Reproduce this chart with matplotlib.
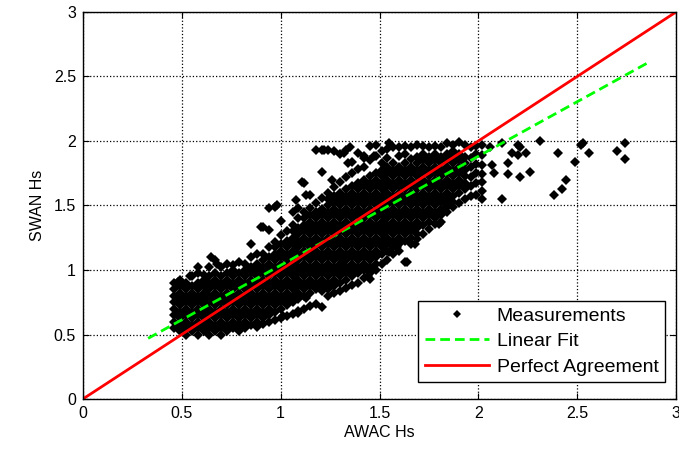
"""
SWAN vs AWAC significant wave height scatter, with linear fit and 1:1 line.
"""
import numpy as np
import matplotlib
matplotlib.use("Agg")
import matplotlib.pyplot as plt

plt.rcParams['font.family'] = ['Liberation Sans', 'DejaVu Sans']

# scatter cloud, stored column by column (AWAC Hs -> list of SWAN Hs)
col_x = [0.46, 0.49, 0.52, 0.55, 0.58, 0.61, 0.64, 0.67, 0.70, 0.73,
         0.76, 0.79, 0.82, 0.85, 0.88, 0.91, 0.94, 0.97, 1.00, 1.03,
         1.06, 1.09, 1.12, 1.15, 1.18, 1.21, 1.24, 1.27, 1.30, 1.33,
         1.36, 1.39, 1.42, 1.45, 1.48, 1.51, 1.54, 1.57, 1.60, 1.63,
         1.66, 1.69, 1.72, 1.75, 1.78, 1.81, 1.84, 1.87, 1.90, 1.93,
         1.96, 1.99, 2.02]
col_y = [
    [0.55, 0.60, 0.65, 0.70, 0.75, 0.80, 0.85, 0.90],
    [0.525, 0.575, 0.625, 0.675, 0.725, 0.775, 0.825, 0.875, 0.925],
    [0.50, 0.55, 0.60, 0.65, 0.70, 0.75, 0.80, 0.85, 0.90],
    [0.525, 0.575, 0.625, 0.675, 0.725, 0.775, 0.825, 0.875, 0.95],
    [0.50, 0.55, 0.60, 0.65, 0.70, 0.75, 0.80, 0.85, 0.90, 0.98],
    [0.525, 0.575, 0.625, 0.675, 0.725, 0.775, 0.825, 0.875, 0.925, 0.96],
    [0.50, 0.55, 0.60, 0.65, 0.70, 0.75, 0.80, 0.85, 0.90, 0.95, 1.02],
    [0.525, 0.575, 0.625, 0.675, 0.725, 0.775, 0.825, 0.875, 0.925, 0.975, 1.08],
    [0.50, 0.55, 0.60, 0.65, 0.70, 0.75, 0.80, 0.85, 0.90, 0.95, 1.02],
    [0.525, 0.575, 0.625, 0.675, 0.725, 0.775, 0.825, 0.875, 0.925, 0.975, 1.05],
    [0.55, 0.60, 0.65, 0.70, 0.75, 0.80, 0.85, 0.90, 0.95, 1.00, 1.04],
    [0.525, 0.575, 0.625, 0.675, 0.725, 0.775, 0.825, 0.875, 0.925, 0.975, 1.06],
    [0.55, 0.60, 0.65, 0.70, 0.75, 0.80, 0.85, 0.90, 0.95, 1.00, 1.05],
    [0.575, 0.625, 0.675, 0.725, 0.775, 0.825, 0.875, 0.925, 0.975, 1.025, 1.10, 1.20],
    [0.56, 0.60, 0.65, 0.70, 0.75, 0.80, 0.85, 0.90, 0.95, 1.00, 1.05, 1.12],
    [0.58, 0.625, 0.675, 0.725, 0.775, 0.825, 0.875, 0.925, 0.975, 1.025, 1.075, 1.12, 1.33],
    [0.60, 0.65, 0.70, 0.75, 0.80, 0.85, 0.90, 0.95, 1.00, 1.05, 1.10, 1.18, 1.48],
    [0.61, 0.675, 0.725, 0.775, 0.825, 0.875, 0.925, 0.975, 1.025, 1.075, 1.125, 1.175, 1.22, 1.49],
    [0.63, 0.70, 0.75, 0.80, 0.85, 0.90, 0.95, 1.00, 1.05, 1.10, 1.15, 1.20, 1.27, 1.38],
    [0.64, 0.725, 0.775, 0.825, 0.875, 0.925, 0.975, 1.025, 1.075, 1.125, 1.175, 1.225, 1.30],
    [0.66, 0.75, 0.80, 0.85, 0.90, 0.95, 1.00, 1.05, 1.10, 1.15, 1.20, 1.25, 1.30, 1.35, 1.45],
    [0.68, 0.775, 0.825, 0.875, 0.925, 0.975, 1.025, 1.075, 1.125, 1.175, 1.225, 1.275, 1.325, 1.40, 1.48],
    [0.70, 0.80, 0.85, 0.90, 0.95, 1.00, 1.05, 1.10, 1.15, 1.20, 1.25, 1.30, 1.35, 1.40, 1.45, 1.67],
    [0.72, 0.825, 0.875, 0.925, 0.975, 1.025, 1.075, 1.125, 1.175, 1.225, 1.275, 1.325, 1.375, 1.425, 1.48, 1.58],
    [0.74, 0.85, 0.90, 0.95, 1.00, 1.05, 1.10, 1.15, 1.20, 1.25, 1.30, 1.35, 1.40, 1.45, 1.52, 1.93],
    [0.71, 0.84, 0.875, 0.925, 0.975, 1.025, 1.075, 1.125, 1.175, 1.225, 1.275, 1.325, 1.375, 1.425, 1.475, 1.56, 1.76, 1.93],
    [0.80, 0.85, 0.90, 0.95, 1.00, 1.05, 1.10, 1.15, 1.20, 1.25, 1.30, 1.35, 1.40, 1.45, 1.50, 1.55, 1.60, 1.93],
    [0.82, 0.875, 0.925, 0.975, 1.025, 1.075, 1.125, 1.175, 1.225, 1.275, 1.325, 1.375, 1.425, 1.475, 1.525, 1.575, 1.64, 1.92],
    [0.84, 0.90, 0.95, 1.00, 1.05, 1.10, 1.15, 1.20, 1.25, 1.30, 1.35, 1.40, 1.45, 1.50, 1.55, 1.60, 1.68, 1.90],
    [0.86, 0.925, 0.975, 1.025, 1.075, 1.125, 1.175, 1.225, 1.275, 1.325, 1.375, 1.425, 1.475, 1.525, 1.575, 1.625, 1.72, 1.93],
    [0.88, 0.95, 1.00, 1.05, 1.10, 1.15, 1.20, 1.25, 1.30, 1.35, 1.40, 1.45, 1.50, 1.55, 1.60, 1.65, 1.75, 1.84],
    [0.90, 0.975, 1.025, 1.075, 1.125, 1.175, 1.225, 1.275, 1.325, 1.375, 1.425, 1.475, 1.525, 1.575, 1.625, 1.675, 1.78],
    [0.94, 1.00, 1.05, 1.10, 1.15, 1.20, 1.25, 1.30, 1.35, 1.40, 1.45, 1.50, 1.55, 1.60, 1.65, 1.70, 1.80, 1.88],
    [0.93, 0.98, 1.025, 1.075, 1.125, 1.175, 1.225, 1.275, 1.325, 1.375, 1.425, 1.475, 1.525, 1.575, 1.625, 1.675, 1.725, 1.85, 1.96],
    [1.00, 1.05, 1.10, 1.15, 1.20, 1.25, 1.30, 1.35, 1.40, 1.45, 1.50, 1.55, 1.60, 1.65, 1.70, 1.75, 1.88, 1.97],
    [1.05, 1.125, 1.175, 1.225, 1.275, 1.325, 1.375, 1.425, 1.475, 1.525, 1.575, 1.625, 1.675, 1.725, 1.775, 1.83, 1.92],
    [1.08, 1.15, 1.20, 1.25, 1.30, 1.35, 1.40, 1.45, 1.50, 1.55, 1.60, 1.65, 1.70, 1.75, 1.80, 1.87, 1.94],
    [1.12, 1.175, 1.225, 1.275, 1.325, 1.375, 1.425, 1.475, 1.525, 1.575, 1.625, 1.675, 1.725, 1.775, 1.825, 1.95],
    [1.15, 1.20, 1.25, 1.30, 1.35, 1.40, 1.45, 1.50, 1.55, 1.60, 1.65, 1.70, 1.75, 1.80, 1.88, 1.95],
    [1.06, 1.225, 1.275, 1.325, 1.375, 1.425, 1.475, 1.525, 1.575, 1.625, 1.675, 1.725, 1.775, 1.825, 1.90, 1.96],
    [1.20, 1.25, 1.30, 1.35, 1.40, 1.45, 1.50, 1.55, 1.60, 1.65, 1.70, 1.75, 1.80, 1.86, 1.95],
    [1.24, 1.275, 1.325, 1.375, 1.425, 1.475, 1.525, 1.575, 1.625, 1.675, 1.725, 1.775, 1.825, 1.875, 1.97],
    [1.28, 1.35, 1.40, 1.45, 1.50, 1.55, 1.60, 1.65, 1.70, 1.75, 1.80, 1.85, 1.90, 1.96],
    [1.32, 1.375, 1.425, 1.475, 1.525, 1.575, 1.625, 1.675, 1.725, 1.775, 1.825, 1.875, 1.95],
    [1.36, 1.40, 1.45, 1.50, 1.55, 1.60, 1.65, 1.70, 1.75, 1.80, 1.85, 1.90, 1.96],
    [1.37, 1.425, 1.475, 1.525, 1.575, 1.625, 1.675, 1.725, 1.775, 1.825, 1.875, 1.95],
    [1.45, 1.50, 1.55, 1.60, 1.65, 1.70, 1.75, 1.80, 1.85, 1.90, 1.98],
    [1.49, 1.525, 1.575, 1.625, 1.675, 1.725, 1.775, 1.825, 1.875, 1.925, 1.97],
    [1.52, 1.60, 1.65, 1.70, 1.75, 1.80, 1.85, 1.90, 1.99],
    [1.55, 1.625, 1.675, 1.725, 1.775, 1.825, 1.875, 1.97],
    [1.57, 1.65, 1.72, 1.80, 1.87, 1.95],
    [1.58, 1.675, 1.75, 1.82, 1.90, 1.96],
    [1.55, 1.61, 1.68, 1.74, 1.81, 1.89, 1.97],
]

# loose points along the edges of the cloud
edge_x = [0.48, 0.54, 0.58, 0.65, 0.68, 0.94, 0.98, 1.13, 1.08, 1.26, 1.34, 1.39,
          1.42, 1.47, 1.55, 0.79, 1.01, 1.09, 1.13, 1.44, 1.45, 1.31, 1.55, 1.59,
          1.73, 1.80, 1.84, 1.68, 1.64, 1.22, 1.32, 1.35, 0.90, 1.11]
edge_y = [0.91, 0.95, 1.02, 1.10, 1.05, 1.31, 1.50, 1.58, 1.54, 1.70, 1.83, 1.91,
          1.87, 1.88, 1.98, 0.59, 0.64, 0.67, 0.78, 0.95, 1.00, 1.06, 1.14, 1.18,
          1.43, 1.36, 1.49, 1.20, 1.06, 1.93, 1.91, 1.95, 1.33, 1.68]

# scattered points to the right of the main cloud
out_x = [2.12, 2.06, 2.20, 2.21, 2.17, 2.20, 2.24, 2.31, 2.40, 2.49, 2.52, 2.53, 2.56,
         2.70, 2.74, 2.74, 2.07, 2.15, 2.08, 2.15, 2.21, 2.26, 2.44, 2.42, 2.38, 2.12]
out_y = [1.98, 1.95, 1.97, 1.95, 1.91, 1.89, 1.91, 2.00, 1.91, 1.84, 1.97, 1.98, 1.91,
         1.92, 1.98, 1.86, 1.81, 1.83, 1.75, 1.74, 1.72, 1.76, 1.70, 1.63, 1.58, 1.55]

# linear fit end points and 1:1 line
fit_x = [0.33, 2.85]
fit_y = [0.47, 2.60]
perfect = [0, 3]

meas_x = [x for x, ys in zip(col_x, col_y) for _ in ys] + edge_x + out_x
meas_y = [y for ys in col_y for y in ys] + edge_y + out_y

fig = plt.figure(figsize=(6.79, 4.55), dpi=100)
ax = fig.add_axes([0.122, 0.123, 0.874, 0.851])

ax.plot(meas_x, meas_y, 'D', color='black', markersize=5.0, markeredgewidth=0,
        label='Measurements')
ax.plot(fit_x, fit_y, '--', color='#00ff00', linewidth=2, dashes=(3.5, 1.8),
        label='Linear Fit')
ax.plot(perfect, perfect, '-', color='red', linewidth=2, label='Perfect Agreement')

ax.set_xlim(0, 3)
ax.set_ylim(0, 3)
ax.set_xticks([0, 0.5, 1, 1.5, 2, 2.5, 3])
ax.set_yticks([0, 0.5, 1, 1.5, 2, 2.5, 3])
ax.set_xticklabels(['0', '0.5', '1', '1.5', '2', '2.5', '3'])
ax.set_yticklabels(['0', '0.5', '1', '1.5', '2', '2.5', '3'])
ax.tick_params(direction='in', top=True, right=True, labelsize=11.5, length=4, pad=5)
ax.grid(True, color='black', linestyle=':', linewidth=0.9)
ax.set_axisbelow(True)
for s in ax.spines.values():
    s.set_linewidth(1.0)

ax.set_xlabel('AWAC Hs', fontsize=11.5, labelpad=3)
ax.set_ylabel('SWAN Hs', fontsize=11.5, labelpad=6)

leg = ax.legend(loc='lower right', bbox_to_anchor=(0.981, 0.044), fontsize=14,
                frameon=True, fancybox=False, edgecolor='black', framealpha=1,
                handlelength=3.3, labelspacing=0.4, borderpad=0.33,
                handletextpad=0.4, borderaxespad=0)
leg.get_frame().set_linewidth(1.0)
for h in leg.legend_handles[:1]:
    h.set_markersize(4)

fig.savefig('out.png', dpi=100)
